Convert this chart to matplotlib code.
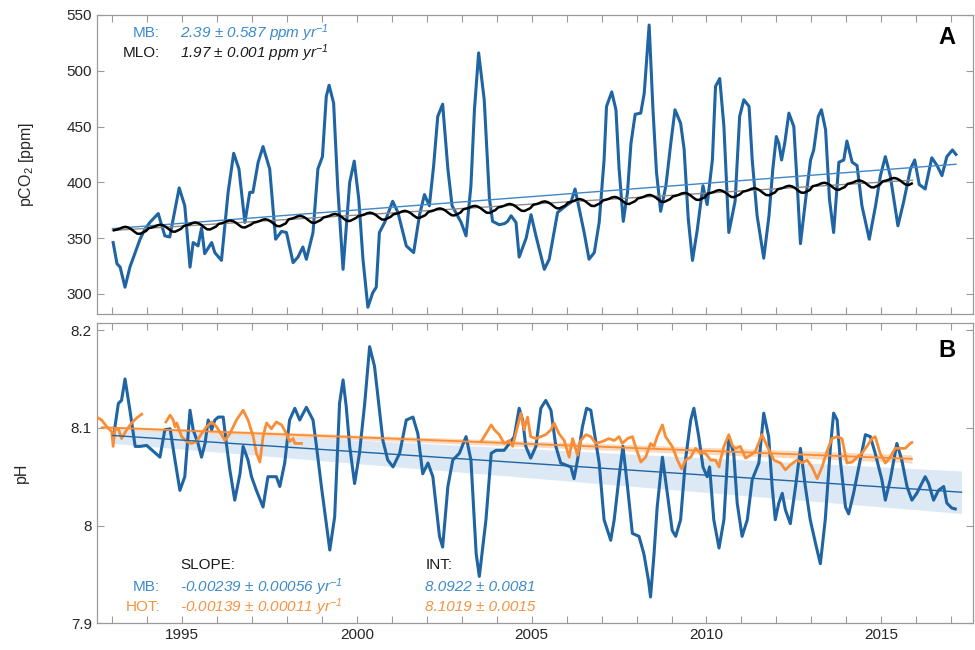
import numpy as np
import matplotlib
matplotlib.use("Agg")
import matplotlib.pyplot as plt
from matplotlib.ticker import MultipleLocator, FuncFormatter

plt.rcParams['font.family'] = ['Liberation Sans', 'DejaVu Sans']
plt.rcParams['mathtext.default'] = 'regular'

# ---- panel A: MB pCO2 ----
mb_co2_year = [
    1993.02, 1993.13, 1993.22, 1993.36, 1993.50, 1993.64, 1993.79, 1993.93, 1994.07, 1994.31,
    1994.50, 1994.64, 1994.91, 1995.07, 1995.22, 1995.31, 1995.45, 1995.55, 1995.64, 1995.84,
    1995.93, 1996.12, 1996.31, 1996.47, 1996.62, 1996.79, 1996.93, 1997.02, 1997.17, 1997.31,
    1997.50, 1997.67, 1997.84, 1997.98, 1998.17, 1998.31, 1998.45, 1998.55, 1998.74, 1998.88,
    1999.01, 1999.12, 1999.20, 1999.33, 1999.45, 1999.60, 1999.79, 1999.92, 2000.05, 2000.17,
    2000.31, 2000.45, 2000.55, 2000.64, 2000.79, 2001.02, 2001.17, 2001.41, 2001.62, 2001.79,
    2001.93, 2002.07, 2002.19, 2002.31, 2002.45, 2002.60, 2002.72, 2002.98, 2003.12, 2003.26,
    2003.36, 2003.48, 2003.64, 2003.79, 2003.88, 2004.07, 2004.22, 2004.31, 2004.41, 2004.55,
    2004.64, 2004.84, 2004.98, 2005.12, 2005.36, 2005.50, 2005.74, 2005.98, 2006.12, 2006.24,
    2006.36, 2006.50, 2006.64, 2006.79, 2006.93, 2007.07, 2007.14, 2007.29, 2007.41, 2007.50,
    2007.62, 2007.74, 2007.84, 2007.96, 2008.12, 2008.22, 2008.36, 2008.47, 2008.57, 2008.69,
    2008.84, 2008.98, 2009.10, 2009.26, 2009.36, 2009.48, 2009.60, 2009.74, 2009.90, 2010.02,
    2010.17, 2010.26, 2010.38, 2010.50, 2010.64, 2010.82, 2010.95, 2011.07, 2011.22, 2011.31,
    2011.45, 2011.64, 2011.79, 2011.90, 2012.00, 2012.07, 2012.15, 2012.24, 2012.36, 2012.50,
    2012.60, 2012.69, 2012.84, 2012.98, 2013.07, 2013.20, 2013.29, 2013.41, 2013.52, 2013.64,
    2013.79, 2013.93, 2014.02, 2014.17, 2014.31, 2014.45, 2014.66, 2014.84, 2014.98, 2015.12,
    2015.26, 2015.48, 2015.64, 2015.84, 2015.96, 2016.09, 2016.26, 2016.45, 2016.60, 2016.74,
    2016.88, 2017.04, 2017.14]
mb_co2 = [
    346, 327, 324, 306, 324, 336, 349, 358, 364, 372,
    352, 351, 395, 379, 324, 346, 343, 359, 336, 346,
    337, 330, 391, 426, 412, 364, 391, 391, 418, 432,
    412, 349, 356, 355, 328, 333, 342, 331, 355, 412,
    423, 477, 487, 471, 394, 322, 400, 419, 385, 331,
    288, 301, 306, 355, 364, 383, 373, 343, 337, 371,
    389, 379, 414, 459, 470, 412, 379, 364, 352, 397,
    465, 516, 474, 385, 365, 362, 363, 365, 370, 364,
    333, 350, 371, 352, 322, 331, 373, 379, 382, 394,
    376, 355, 331, 337, 364, 420, 468, 481, 465, 412,
    365, 391, 435, 461, 462, 480, 541, 465, 409, 374,
    397, 435, 465, 453, 430, 367, 330, 358, 397, 380,
    420, 486, 493, 450, 355, 383, 459, 474, 468, 420,
    370, 332, 370, 412, 441, 435, 420, 435, 462, 450,
    397, 345, 385, 420, 429, 459, 465, 447, 385, 355,
    418, 420, 437, 418, 415, 379, 349, 379, 406, 423,
    406, 361, 382, 412, 420, 398, 394, 422, 415, 406,
    423, 429, 425]

# Mauna Loa: annual means and mean seasonal cycle (Jan..Dec)
mlo_years = list(range(1993, 2016))
mlo_annual = [357.0, 358.9, 360.9, 362.7, 363.8, 366.8, 368.5, 369.7, 371.3, 373.5,
              375.8, 377.5, 379.8, 381.9, 383.8, 385.6, 387.4, 389.9, 391.6, 393.8,
              396.5, 398.6, 400.8]
mlo_season = [0.0, 0.6, 1.4, 2.6, 3.1, 2.4, 0.9, -1.2, -3.0, -3.2, -1.9, -0.7]
mlo_end = 2015.9

# fits
mb_co2_slope, mb_co2_int, co2_t0 = 2.39, 358.5, 1993.0
mlo_slope, mlo_int = 1.97, 356.8

# ---- panel B: pH ----
mb_ph_year = [
    1993.03, 1993.17, 1993.26, 1993.36, 1993.50, 1993.65, 1993.79, 1993.98, 1994.17, 1994.36,
    1994.50, 1994.65, 1994.79, 1994.93, 1995.07, 1995.22, 1995.31, 1995.45, 1995.55, 1995.65,
    1995.74, 1995.84, 1995.93, 1996.03, 1996.17, 1996.26, 1996.36, 1996.50, 1996.65, 1996.74,
    1996.88, 1996.98, 1997.12, 1997.31, 1997.45, 1997.60, 1997.69, 1997.79, 1997.93, 1998.07,
    1998.22, 1998.36, 1998.55, 1998.74, 1998.84, 1998.98, 1999.12, 1999.22, 1999.36, 1999.50,
    1999.60, 1999.69, 1999.79, 1999.93, 2000.07, 2000.22, 2000.36, 2000.50, 2000.65, 2000.74,
    2000.88, 2001.03, 2001.22, 2001.41, 2001.60, 2001.74, 2001.88, 2002.03, 2002.17, 2002.36,
    2002.45, 2002.60, 2002.74, 2002.93, 2003.12, 2003.26, 2003.41, 2003.50, 2003.69, 2003.84,
    2003.98, 2004.21, 2004.36, 2004.50, 2004.64, 2004.74, 2004.83, 2004.97, 2005.12, 2005.26,
    2005.40, 2005.55, 2005.69, 2005.83, 2005.97, 2006.12, 2006.21, 2006.31, 2006.45, 2006.57,
    2006.69, 2006.78, 2006.93, 2007.07, 2007.17, 2007.26, 2007.36, 2007.50, 2007.61, 2007.74,
    2007.88, 2008.07, 2008.21, 2008.34, 2008.40, 2008.50, 2008.59, 2008.74, 2008.88, 2009.02,
    2009.12, 2009.26, 2009.40, 2009.55, 2009.64, 2009.78, 2009.90, 2010.02, 2010.09, 2010.21,
    2010.36, 2010.50, 2010.64, 2010.78, 2010.88, 2011.02, 2011.17, 2011.31, 2011.50, 2011.64,
    2011.78, 2011.88, 2011.97, 2012.07, 2012.17, 2012.26, 2012.40, 2012.55, 2012.69, 2012.83,
    2012.97, 2013.12, 2013.26, 2013.40, 2013.55, 2013.64, 2013.74, 2013.83, 2013.98, 2014.07,
    2014.21, 2014.40, 2014.55, 2014.69, 2014.83, 2015.02, 2015.12, 2015.26, 2015.45, 2015.59,
    2015.74, 2015.88, 2016.02, 2016.12, 2016.26, 2016.36, 2016.50, 2016.64, 2016.79, 2016.88,
    2017.02, 2017.12]
mb_ph = [
    8.091, 8.125, 8.128, 8.150, 8.118, 8.081, 8.081, 8.082, 8.076, 8.070,
    8.098, 8.099, 8.067, 8.036, 8.050, 8.118, 8.098, 8.084, 8.070, 8.084,
    8.108, 8.098, 8.108, 8.111, 8.111, 8.084, 8.057, 8.026, 8.053, 8.081,
    8.067, 8.050, 8.036, 8.019, 8.050, 8.050, 8.050, 8.040, 8.064, 8.108,
    8.120, 8.108, 8.121, 8.108, 8.081, 8.040, 8.002, 7.975, 8.009, 8.125,
    8.149, 8.122, 8.081, 8.043, 8.074, 8.125, 8.183, 8.163, 8.115, 8.087,
    8.067, 8.060, 8.074, 8.108, 8.111, 8.094, 8.053, 8.064, 8.050, 7.989,
    7.978, 8.040, 8.067, 8.074, 8.091, 8.067, 7.971, 7.948, 8.006, 8.074,
    8.077, 8.077, 8.084, 8.091, 8.120, 8.108, 8.081, 8.069, 8.081, 8.120,
    8.128, 8.118, 8.081, 8.064, 8.062, 8.060, 8.048, 8.067, 8.101, 8.120,
    8.118, 8.098, 8.064, 8.006, 7.995, 7.985, 8.006, 8.050, 8.081, 8.040,
    7.992, 7.989, 7.971, 7.944, 7.927, 7.971, 8.019, 8.070, 8.033, 7.995,
    7.989, 8.006, 8.067, 8.108, 8.120, 8.091, 8.060, 8.050, 8.060, 8.006,
    7.977, 8.006, 8.091, 8.074, 8.023, 7.989, 8.006, 8.047, 8.064, 8.115,
    8.091, 8.040, 8.006, 8.023, 8.033, 8.016, 8.002, 8.040, 8.079, 8.040,
    8.006, 7.982, 7.961, 8.006, 8.081, 8.115, 8.108, 8.067, 8.019, 8.012,
    8.033, 8.067, 8.093, 8.091, 8.074, 8.047, 8.026, 8.047, 8.084, 8.067,
    8.040, 8.026, 8.033, 8.040, 8.050, 8.043, 8.026, 8.036, 8.040, 8.023,
    8.018, 8.017]

# HOT pH, nan marks gaps in the record
hot_year = [
    1992.55, 1992.69, 1992.84, 1992.98, 1993.02, 1993.07, 1993.17, 1993.26, 1993.41, 1993.55,
    1993.69, 1993.84, 1994.2,
    1994.53, 1994.65, 1994.74, 1994.79, 1994.84, 1994.98, 1995.12, 1995.26, 1995.41, 1995.55,
    1995.69, 1995.84, 1995.98, 1996.12, 1996.22, 1996.36, 1996.55, 1996.74, 1996.88, 1997.03,
    1997.12, 1997.22, 1997.31, 1997.41, 1997.55, 1997.69, 1997.84, 1997.98, 1998.07, 1998.17,
    1998.22, 1998.31, 1998.41, 2000.0,
    2003.55, 2003.69, 2003.84, 2003.93, 2004.07, 2004.21, 2004.36, 2004.45, 2004.59, 2004.69,
    2004.78, 2004.88, 2004.97, 2005.12, 2005.26, 2005.40, 2005.55, 2005.64, 2005.78, 2005.93,
    2006.07, 2006.17, 2006.31, 2006.40, 2006.55, 2006.69, 2006.83, 2007.02, 2007.21, 2007.36,
    2007.50, 2007.59, 2007.74, 2007.88, 2007.97, 2008.12, 2008.26, 2008.40, 2008.50, 2008.59,
    2008.74, 2008.83, 2009.02, 2009.17, 2009.29, 2009.40, 2009.55, 2009.69, 2009.83, 2009.97,
    2010.12, 2010.26, 2010.36, 2010.40, 2010.50, 2010.64, 2010.74, 2010.83, 2010.97, 2011.12,
    2011.26, 2011.40, 2011.59, 2011.74, 2011.93, 2012.12, 2012.26, 2012.40, 2012.59, 2012.74,
    2012.88, 2013.02, 2013.17, 2013.31, 2013.45, 2013.59, 2013.74, 2013.88, 2014.02, 2014.17,
    2014.31, 2014.45, 2014.59, 2014.74, 2014.83, 2014.97, 2015.12, 2015.26, 2015.40, 2015.55,
    2015.69, 2015.83, 2015.88]
hot_ph = [
    8.111, 8.108, 8.101, 8.096, 8.081, 8.098, 8.099, 8.089, 8.098, 8.105,
    8.110, 8.114, np.nan,
    8.106, 8.113, 8.108, 8.101, 8.105, 8.091, 8.086, 8.084, 8.086, 8.094,
    8.101, 8.106, 8.101, 8.093, 8.087, 8.094, 8.108, 8.118, 8.108, 8.091,
    8.074, 8.065, 8.091, 8.105, 8.099, 8.106, 8.103, 8.094, 8.086, 8.089,
    8.084, 8.084, 8.084, np.nan,
    8.086, 8.094, 8.103, 8.098, 8.093, 8.084, 8.087, 8.081, 8.101, 8.115,
    8.098, 8.111, 8.091, 8.089, 8.091, 8.093, 8.098, 8.105, 8.094, 8.087,
    8.070, 8.089, 8.072, 8.087, 8.093, 8.091, 8.084, 8.086, 8.089, 8.087,
    8.091, 8.084, 8.089, 8.091, 8.081, 8.065, 8.070, 8.084, 8.081, 8.091,
    8.103, 8.091, 8.081, 8.067, 8.058, 8.067, 8.070, 8.079, 8.074, 8.074,
    8.067, 8.067, 8.060, 8.067, 8.081, 8.093, 8.082, 8.079, 8.081, 8.069,
    8.072, 8.076, 8.093, 8.081, 8.067, 8.064, 8.057, 8.062, 8.067, 8.064,
    8.067, 8.060, 8.048, 8.060, 8.076, 8.089, 8.091, 8.089, 8.064, 8.065,
    8.070, 8.074, 8.081, 8.089, 8.091, 8.074, 8.064, 8.070, 8.079, 8.079,
    8.079, 8.084, 8.085]

# fits: slope, slope err, intercept, intercept err
mb_ph_fit = (-0.00239, 0.00056, 8.0922, 0.0081)
hot_ph_fit = (-0.00139, 0.00011, 8.1019, 0.0015)
mb_ph_t = (1993.0, 2017.3)
hot_ph_t = (1991.7, 2015.88)

c_mb = '#1f64a3'
c_mb_txt = '#3d8ac9'
c_mb_trend = '#3f87c6'
c_hot = '#f98d36'
c_hot_txt = '#f7923f'
c_frame = '#9a9a9a'
c_tick = '#262626'

fig = plt.figure(figsize=(9.75, 6.5), dpi=100)
axA = fig.add_axes([0.0992, 0.517, 0.8988, 0.460])
axB = fig.add_axes([0.0992, 0.041, 0.8988, 0.4625])

xlim = (1992.55, 2017.63)

for ax in (axA, axB):
    ax.set_xlim(*xlim)
    ax.xaxis.set_major_locator(MultipleLocator(5))
    ax.xaxis.set_minor_locator(MultipleLocator(1))
    ax.tick_params(which='both', direction='in', top=True, right=True,
                   length=5, width=0.8, color=c_frame, labelcolor=c_tick,
                   labelsize=11)
    for s in ax.spines.values():
        s.set_color(c_frame)
        s.set_linewidth(0.9)

# ---- A ----
mb_t = np.array(mb_co2_year)
axA.plot(mb_t, mb_co2, color=c_mb, lw=2.2, zorder=3, solid_joinstyle='round')
tt = np.array([co2_t0, mb_t[-1]])
axA.plot(tt, mb_co2_int + mb_co2_slope * (tt - co2_t0), color=c_mb_trend, lw=1.0, zorder=4)

mlo_t = []
mlo_v = []
for y, a in zip(mlo_years, mlo_annual):
    for m, s in enumerate(mlo_season):
        t = y + (m + 0.5) / 12
        if t <= mlo_end:
            mlo_t.append(t)
            mlo_v.append(a + s)
tm = np.array([co2_t0, mlo_end])
axA.plot(tm, mlo_int + mlo_slope * (tm - co2_t0), color='#8c8c8c', lw=1.0, zorder=4)
axA.plot(mlo_t, mlo_v, color='black', lw=1.8, zorder=5)

axA.set_ylim(282, 550)
axA.yaxis.set_major_locator(MultipleLocator(50))
axA.tick_params(labelbottom=False)
axA.set_ylabel('pCO$_2$ [ppm]', fontsize=11.5, color=c_tick, labelpad=22)

axA.text(1994.36, 533.5, 'MB:', ha='right', va='center', fontsize=11, color=c_mb_txt)
axA.text(1994.93, 533.5, '2.39 ± 0.587 ppm yr$^{-1}$', ha='left', va='center',
         fontsize=11, color=c_mb_txt, style='italic')
axA.text(1994.36, 515.5, 'MLO:', ha='right', va='center', fontsize=11, color='#1a1a1a')
axA.text(1994.93, 515.5, '1.97 ± 0.001 ppm yr$^{-1}$', ha='left', va='center',
         fontsize=11, color='#1a1a1a', style='italic')
axA.text(0.970, 0.923, 'A', transform=axA.transAxes, ha='center', va='center',
         fontsize=17, fontweight='bold', color='black')

# ---- B ----
def band(fit, t_range):
    s, se, b, be = fit
    t = np.linspace(t_range[0], t_range[1], 50)
    dt = t - t_range[0]
    return t, b + s * dt, (b + be) + (s + se) * dt, (b - be) + (s - se) * dt

t1, m1, u1, l1 = band(mb_ph_fit, mb_ph_t)
axB.fill_between(t1, l1, u1, color='#dce8f3', lw=0, zorder=1)
t2, m2, u2, l2 = band(hot_ph_fit, hot_ph_t)
keep = t2 >= xlim[0]
axB.fill_between(t2[keep], l2[keep], u2[keep], color='#fcd9bd', lw=0, zorder=1)

axB.plot(mb_ph_year, mb_ph, color=c_mb, lw=2.2, zorder=3, solid_joinstyle='round')
axB.plot(hot_year, hot_ph, color=c_hot, lw=2.0, zorder=4, solid_joinstyle='round')
axB.plot(t1, m1, color=c_mb, lw=1.0, zorder=5)
axB.plot(t2[keep], m2[keep], color=c_hot, lw=1.3, zorder=5)

axB.set_ylim(7.9, 8.2075)
axB.set_yticks([7.9, 8.0, 8.1, 8.2])
axB.yaxis.set_major_formatter(FuncFormatter(lambda v, p: '%g' % round(v, 2)))
axB.set_ylabel('pH', fontsize=11.5, color=c_tick, labelpad=30)

axB.text(1994.93, 7.9595, 'SLOPE:', ha='left', va='center', fontsize=11, color='#1a1a1a')
axB.text(2001.95, 7.9595, 'INT:', ha='left', va='center', fontsize=11, color='#1a1a1a')
axB.text(1994.36, 7.937, 'MB:', ha='right', va='center', fontsize=11, color=c_mb_txt)
axB.text(1994.93, 7.937, '-0.00239 ± 0.00056 yr$^{-1}$', ha='left', va='center',
         fontsize=11, color=c_mb_txt, style='italic')
axB.text(2001.95, 7.937, '8.0922 ± 0.0081', ha='left', va='center',
         fontsize=11, color=c_mb_txt, style='italic')
axB.text(1994.36, 7.9165, 'HOT:', ha='right', va='center', fontsize=11, color=c_hot_txt)
axB.text(1994.93, 7.9165, '-0.00139 ± 0.00011 yr$^{-1}$', ha='left', va='center',
         fontsize=11, color=c_hot_txt, style='italic')
axB.text(2001.95, 7.9165, '8.1019 ± 0.0015', ha='left', va='center',
         fontsize=11, color=c_hot_txt, style='italic')
axB.text(0.970, 0.909, 'B', transform=axB.transAxes, ha='center', va='center',
         fontsize=17, fontweight='bold', color='black')

fig.savefig('out.png', dpi=100)
